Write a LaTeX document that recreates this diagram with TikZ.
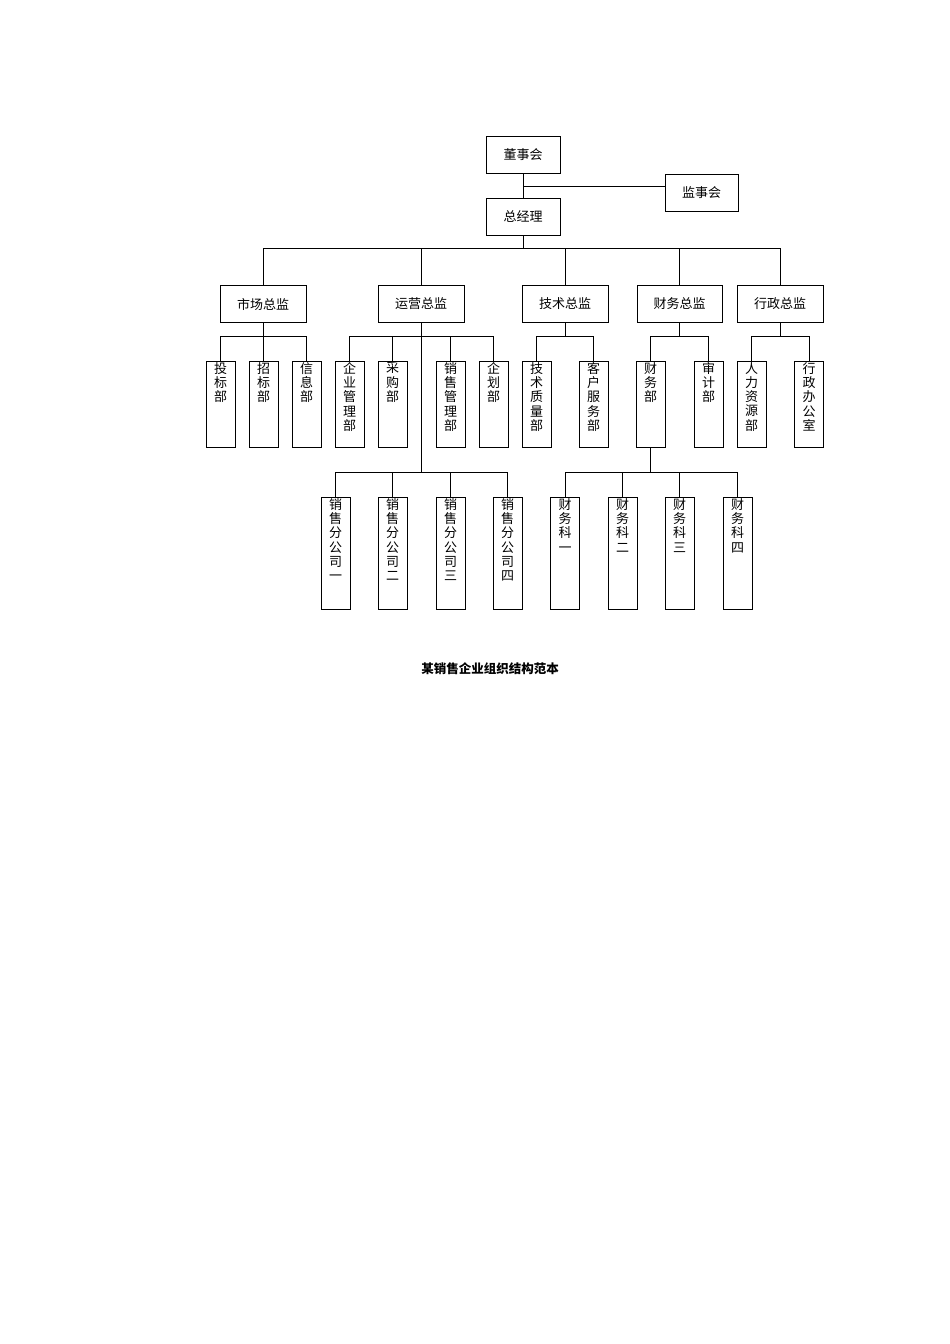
\documentclass[tikz,border=0pt]{standalone}
\usepackage{fontspec}
\newfontfamily\cjk{Noto Sans CJK SC}
\begin{document}
\begin{tikzpicture}[x=1pt,y=-1pt,
  hb/.style={draw,line width=1pt,minimum width=74pt,minimum height=37pt,inner sep=0pt,font=\cjk\fontsize{13}{14}\selectfont},
  vb/.style={draw,line width=1pt,minimum width=29pt,inner sep=0pt},
  ln/.style={line width=1pt}]
\useasboundingbox (0,0) rectangle (950,1344);
\newcommand\vlab[1]{\cjk\fontsize{13}{14.3}\selectfont #1}
\newcommand\vnode[5]{% name, cx, ytop, height, text
  \node[vb,minimum height=#4pt,anchor=north] (#1) at (#2,#3) {};
  \node[anchor=north,inner sep=0pt,align=center,font=\vlab{}] at (#2,#3+1) {#5};}
\node[hb] (dsh) at (523,155) {董事会};
\node[hb,minimum width=73pt] (jsh) at (701.5,192.5) {监事会};
\node[hb] (zjl) at (523,216.5) {总经理};
\draw[ln] (dsh) -- (zjl);
\coordinate (j) at (523,186);
\draw[ln] (j) -- (jsh.west|-j);
\node[hb,minimum width=86pt] (sc) at (263,304) {市场总监};
\node[hb,minimum width=86pt] (yy) at (421,304) {运营总监};
\node[hb,minimum width=86pt] (js) at (565,304) {技术总监};
\node[hb,minimum width=85pt] (cw) at (679.5,304) {财务总监};
\node[hb,minimum width=86pt] (xz) at (780,304) {行政总监};
\coordinate (b1) at (523,248);
\draw[ln] (zjl) -- (b1);
\draw[ln] (sc.north) -- (sc.north|-b1) -- (xz.north|-b1) -- (xz.north);
\foreach \n in {yy,js,cw} \draw[ln] (\n.north|-b1) -- (\n.north);
% level 3
\vnode{tb}{220.5}{361}{86}{投\\标\\部}
\vnode{zb}{263.5}{361}{86}{招\\标\\部}
\vnode{xx}{306.5}{361}{86}{信\\息\\部}
\vnode{qy}{349.5}{361}{86}{企\\业\\管\\理\\部}
\vnode{cg}{392.5}{361}{86}{采\\购\\部}
\vnode{xs}{450.5}{361}{86}{销\\售\\管\\理\\部}
\vnode{qh}{493.5}{361}{86}{企\\划\\部}
\vnode{jszl}{536.5}{361}{86}{技\\术\\质\\量\\部}
\vnode{kh}{593.5}{361}{86}{客\\户\\服\\务\\部}
\vnode{cwb}{650.5}{361}{86}{财\\务\\部}
\vnode{sj}{708.5}{361}{86}{审\\计\\部}
\vnode{rl}{751.5}{361}{86}{人\\力\\资\\源\\部}
\vnode{xzb}{809}{361}{86}{行\\政\\办\\公\\室}
\coordinate (b2) at (0,336);
\draw[ln] (sc) -- (sc|-b2);
\draw[ln] (tb.north) -- (tb.north|-b2) -- (xx.north|-b2) -- (xx.north);
\draw[ln] (zb.north|-b2) -- (zb.north);
\draw[ln] (qy.north) -- (qy.north|-b2) -- (qh.north|-b2) -- (qh.north);
\foreach \n in {cg,xs} \draw[ln] (\n.north|-b2) -- (\n.north);
\draw[ln] (js) -- (js|-b2);
\draw[ln] (jszl.north) -- (jszl.north|-b2) -- (kh.north|-b2) -- (kh.north);
\draw[ln] (cw) -- (cw|-b2);
\draw[ln] (cwb.north) -- (cwb.north|-b2) -- (sj.north|-b2) -- (sj.north);
\draw[ln] (xz) -- (xz|-b2);
\draw[ln] (rl.north) -- (rl.north|-b2) -- (xzb.north|-b2) -- (xzb.north);
% level 4
\vnode{f1}{335.5}{497}{112}{销\\售\\分\\公\\司\\一}
\vnode{f2}{392.5}{497}{112}{销\\售\\分\\公\\司\\二}
\vnode{f3}{450.5}{497}{112}{销\\售\\分\\公\\司\\三}
\vnode{f4}{507.5}{497}{112}{销\\售\\分\\公\\司\\四}
\vnode{k1}{565}{497}{112}{财\\务\\科\\一}
\vnode{k2}{622.5}{497}{112}{财\\务\\科\\二}
\vnode{k3}{679.5}{497}{112}{财\\务\\科\\三}
\vnode{k4}{737.5}{497}{112}{财\\务\\科\\四}
\coordinate (b3) at (0,472);
\draw[ln] (yy.south) -- (yy.south|-b3);
\draw[ln] (f1.north) -- (f1.north|-b3) -- (f4.north|-b3) -- (f4.north);
\foreach \n in {f2,f3} \draw[ln] (\n.north|-b3) -- (\n.north);
\draw[ln] (cwb.south) -- (cwb.south|-b3);
\draw[ln] (k1.north) -- (k1.north|-b3) -- (k4.north|-b3) -- (k4.north);
\foreach \n in {k2,k3} \draw[ln] (\n.north|-b3) -- (\n.north);
\node[font=\cjk\bfseries\fontsize{12.5}{14}\selectfont] (cap) at (490,669) {某销售企业组织结构范本};
\end{tikzpicture}
\end{document}
